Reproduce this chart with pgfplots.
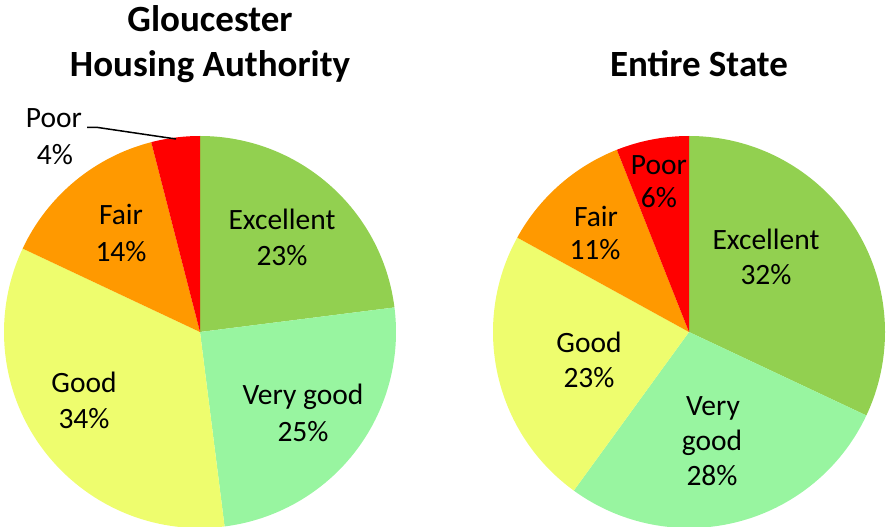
\documentclass[border=0pt]{standalone}
\usepackage{pgfplots}
\usepackage{pgfplotstable}
\pgfplotsset{compat=1.18}
\usepackage{fontspec}
\setmainfont{Carlito}
\definecolor{cA}{HTML}{92D050}
\definecolor{cB}{HTML}{98F5A0}
\definecolor{cC}{HTML}{EEFD6E}
\definecolor{cD}{HTML}{FF9900}
\definecolor{cE}{HTML}{FF0000}
\pgfplotstableread{
label value color
Excellent 23 cA
Verygood 25 cB
Good 34 cC
Fair 14 cD
Poor 4 cE
}\gloucester
\pgfplotstableread{
label value color
Excellent 32 cA
Verygood 28 cB
Good 23 cC
Fair 11 cD
Poor 6 cE
}\state
\newcommand{\pie}[4]{% table, cx, cy, r
  \def\cum{0}%
  \pgfplotsforeachungrouped \i in {0,...,4}{%
    \pgfplotstablegetelem{\i}{value}\of{#1}\let\v\pgfplotsretval
    \pgfplotstablegetelem{\i}{color}\of{#1}\let\c\pgfplotsretval
    \pgfmathsetmacro\a{90-3.6*\cum}%
    \pgfmathsetmacro\b{90-3.6*(\cum+\v)}%
    \edef\temp{\noexpand\fill[\c] (axis cs:#2,#3) -- ++(\a:#4bp) arc[start angle=\a, end angle=\b, radius=#4bp] -- cycle;}%
    \temp
    \pgfmathsetmacro\cum{\cum+\v}%
  }%
}
\begin{document}
\begin{tikzpicture}
\begin{axis}[name=ax, hide axis, x=1bp, y=1bp, xmin=0, xmax=887, ymin=0, ymax=527,
  y dir=reverse, clip=false]
\pie{\gloucester}{200}{332}{196}
\pie{\state}{689}{332}{196}
\tikzset{lab/.style={anchor=base, inner sep=0pt, font=\fontsize{29.5bp}{35bp}\selectfont},
         ttl/.style={anchor=base, inner sep=0pt, font=\bfseries\fontsize{37bp}{44bp}\selectfont}}
% titles
\node[ttl] at (axis cs:210,32) {Gloucester};
\node[ttl] at (axis cs:210,77) {Housing Authority};
\node[ttl] at (axis cs:699,77) {Entire State};
% left labels
\node[lab] at (axis cs:282,230) {Excellent};
\node[lab] at (axis cs:282,266) {23\%};
\node[lab] at (axis cs:303,404) {Very good};
\node[lab] at (axis cs:303,441) {25\%};
\node[lab] at (axis cs:84,392) {Good};
\node[lab] at (axis cs:84,428) {34\%};
\node[lab] at (axis cs:121,225) {Fair};
\node[lab] at (axis cs:121,262) {14\%};
\node[lab] at (axis cs:54,128) {Poor};
\node[lab] at (axis cs:55,165) {4\%};
\draw[black, line width=1.5bp] (axis cs:87,127.5) -- (axis cs:98,127.5) -- (axis cs:176,139);
% right labels
\node[lab] at (axis cs:766,250) {Excellent};
\node[lab] at (axis cs:766,285) {32\%};
\node[lab] at (axis cs:713,415) {Very};
\node[lab] at (axis cs:712,450) {good};
\node[lab] at (axis cs:712,485) {28\%};
\node[lab] at (axis cs:589,353) {Good};
\node[lab] at (axis cs:589,387) {23\%};
\node[lab] at (axis cs:596,227) {Fair};
\node[lab] at (axis cs:595,260) {11\%};
\node[lab] at (axis cs:659,175) {Poor};
\node[lab] at (axis cs:659,208) {6\%};
\end{axis}
\pgfresetboundingbox
\useasboundingbox (ax.south west) rectangle (ax.north east);
\end{tikzpicture}
\end{document}
